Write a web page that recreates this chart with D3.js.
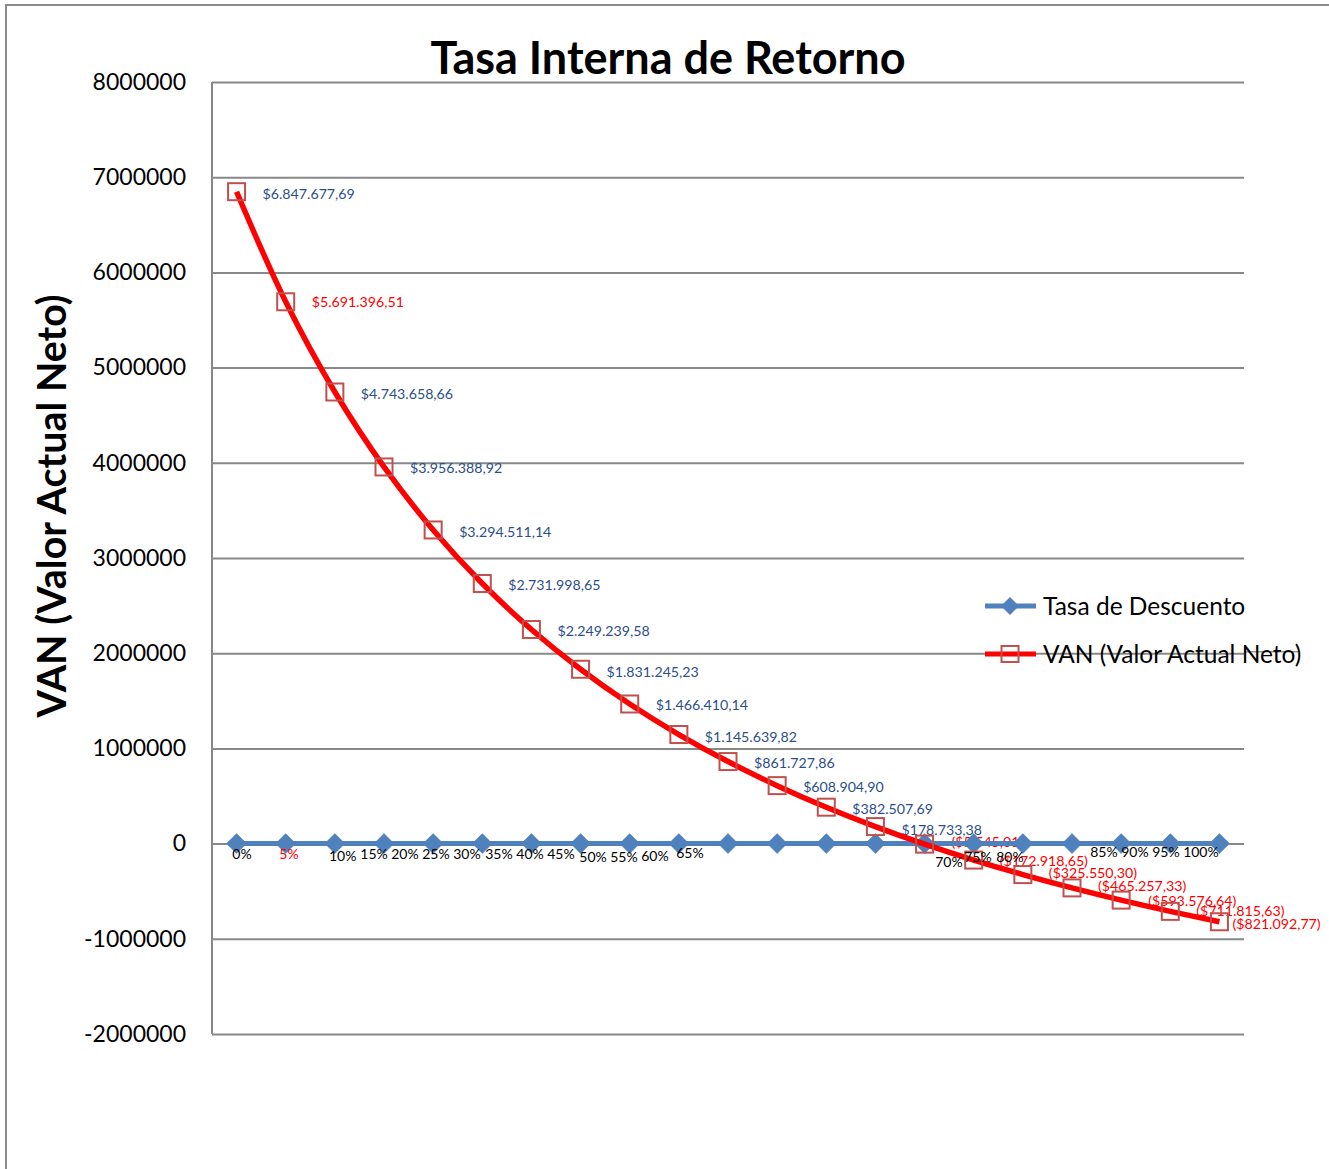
<!DOCTYPE html>
<html><head><meta charset="utf-8">
<script src="https://cdn.jsdelivr.net/npm/d3@7"></script>
<style>
body{margin:0;background:#fff;}
svg{display:block;font-family:Lato,"Open Sans",sans-serif;}
</style></head>
<body>
<svg id="chart" width="1329" height="1169"></svg>
<script>
// ---- data ----
const categories = ["0%","5%","10%","15%","20%","25%","30%","35%","40%","45%","50%","55%","60%","65%","70%","75%","80%","85%","90%","95%","100%"];
const tasaDescuento = [0,0.05,0.10,0.15,0.20,0.25,0.30,0.35,0.40,0.45,0.50,0.55,0.60,0.65,0.70,0.75,0.80,0.85,0.90,0.95,1.00];
const van = [6847677.69,5691396.51,4743658.66,3956388.92,3294511.14,2731998.65,2249239.58,1831245.23,1466410.14,1145639.82,861727.86,608904.90,382507.69,178733.38,-5545.01,-172918.65,-325550.30,-465257.33,-593576.64,-711815.63,-821092.77];
const yTicks = [-2000000,-1000000,0,1000000,2000000,3000000,4000000,5000000,6000000,7000000,8000000];
const seriesNames = ["Tasa de Descuento","VAN (Valor Actual Neto)"];
const titleText = "Tasa Interna de Retorno";
const yTitleText = "VAN (Valor Actual Neto)";

// ---- label layout (manual placements, as in the source) ----
const pctLabelDx = [5.4,3.3,7.8,-10,-28.2,-46.3,-64.5,-81.6,-99.7,-117.9,-135,-153.2,-171.3,-185.5,24.4,4.2,-12.9,31.9,13.8,-4.4,-18.5];
const pctLabelDy = [10,10,12,10,10,10,10,10,10,10,13,13,13,10,19,14,14,9,9,9,9];
const vanLabelDx = [26,26,26,26,26,26,26,26,26,26,26,26,26,26,27,26,26,26,27,26,13];
const vanLabelDy = [2,0.5,2,1,2,2,2,3,1,2.4,1.6,1.5,2,3,-2,1,-2,-1.6,0.6,-0.7,2];

const svg = d3.select("#chart");
const L = 212, R = 1244, T = 82, B = 1034;
const blue = "#4F81BD", red = "#FF0000", markerRed = "#C0504D", labelBlue = "#2B4F8C", grid = "#888888";

const x = d3.scaleBand().domain(categories).range([L, R]).padding(0);
const cx = c => x(c) + x.bandwidth() / 2;
const y = d3.scaleLinear().domain([-2000000, 8000000]).range([B, T]);

// outer border
svg.append("path").attr("d", `M6,1169 L6,5 L1329,5`).attr("fill","none").attr("stroke","#8c8c8c").attr("stroke-width",2);

// gridlines + y labels via axis
const yAxis = d3.axisLeft(y).tickValues(yTicks).tickSize(-(R - L)).tickPadding(26)
  .tickFormat(d => String(d));
const gy = svg.append("g").attr("transform", `translate(${L},0)`).call(yAxis);
gy.select(".domain").remove();
gy.selectAll(".tick line").attr("stroke", grid).attr("stroke-width", 2);
gy.selectAll(".tick text").attr("font-size", 23).attr("fill", "#000").attr("font-family","Lato");
// left axis line
svg.append("line").attr("x1",L).attr("x2",L).attr("y1",T).attr("y2",B).attr("stroke",grid).attr("stroke-width",2);
// gridline continuation under legend
svg.append("line").attr("x1",R).attr("x2",1298).attr("y1",y(2000000)-1.5).attr("y2",y(2000000)-1.5).attr("stroke","#999").attr("stroke-width",1.5);

// title
svg.append("text").attr("x", 668).attr("y", 74).attr("text-anchor","middle")
  .attr("font-weight","bold").attr("font-size",45).text(titleText);
// y title
svg.append("text").attr("transform","translate(66,506) rotate(-90)").attr("text-anchor","middle")
  .attr("font-weight","bold").attr("font-size",39.5).text(yTitleText);

// VAN data labels (beneath series)
svg.append("g").selectAll("text").data(van).join("text")
  .attr("x", (d,i) => cx(categories[i]) + vanLabelDx[i])
  .attr("y", (d,i) => y(d) + vanLabelDy[i])
  .attr("dy","0.35em")
  .attr("font-size", 14.2)
  .attr("fill", (d,i) => (i === 1 || d < 0) ? red : labelBlue)
  .text(d => {
    const s = "$" + d3.format(",.2f")(Math.abs(d)).replace(/,/g,"#").replace(".",",").replace(/#/g,".");
    return d < 0 ? "(" + s + ")" : s;
  });

// blue series
const blueLine = d3.line().x((d,i) => cx(categories[i])).y(d => y(d));
svg.append("path").datum(tasaDescuento).attr("d", blueLine).attr("fill","none").attr("stroke",blue).attr("stroke-width",5);
const dia = 10;
svg.append("g").selectAll("path").data(tasaDescuento).join("path")
  .attr("transform",(d,i) => `translate(${cx(categories[i])},${y(d)})`)
  .attr("d", `M0,${-dia} L${dia},0 L0,${dia} L${-dia},0 Z`).attr("fill",blue).attr("stroke",blue).attr("stroke-width",0.5);

// red series
const redLine = d3.line().curve(d3.curveCatmullRom.alpha(0.5)).x((d,i) => cx(categories[i])).y(d => y(d));
svg.append("path").datum(van).attr("d", redLine).attr("fill","none").attr("stroke",red).attr("stroke-width",5.5);
const sq = 17;
svg.append("g").selectAll("rect").data(van).join("rect")
  .attr("x",(d,i) => cx(categories[i]) - sq/2).attr("y", d => y(d) - sq/2)
  .attr("width",sq).attr("height",sq).attr("fill","none").attr("stroke",markerRed).attr("stroke-width",2);

// percent labels of the discount-rate series
svg.append("g").selectAll("text").data(tasaDescuento).join("text")
  .attr("x",(d,i) => cx(categories[i]) + pctLabelDx[i])
  .attr("y",(d,i) => y(d) + pctLabelDy[i])
  .attr("dy","0.35em").attr("text-anchor","middle")
  .attr("font-size",14)
  .attr("fill",(d,i) => i === 1 ? red : "#000")
  .text(d => d3.format(".0%")(d));

// legend
const lg = svg.append("g");
const leg = [
  {name: seriesNames[0], y: 606, color: blue, marker: "diamond"},
  {name: seriesNames[1], y: 654, color: red, marker: "square"}
];
leg.forEach(e => {
  lg.append("line").attr("x1",985).attr("x2",1036).attr("y1",e.y).attr("y2",e.y).attr("stroke",e.color).attr("stroke-width",5);
  if (e.marker === "diamond") {
    lg.append("path").attr("transform",`translate(1010,${e.y})`).attr("d","M0,-9 L9,0 L0,9 L-9,0 Z").attr("fill",blue);
  } else {
    lg.append("rect").attr("x",1010-8.5).attr("y",e.y-8).attr("width",17).attr("height",16).attr("fill","none").attr("stroke",markerRed).attr("stroke-width",2);
  }
  lg.append("text").attr("x",1043).attr("y",e.y).attr("dy","0.35em").attr("font-size",24.5).attr("fill","#000").text(e.name);
});
</script>
</body></html>
